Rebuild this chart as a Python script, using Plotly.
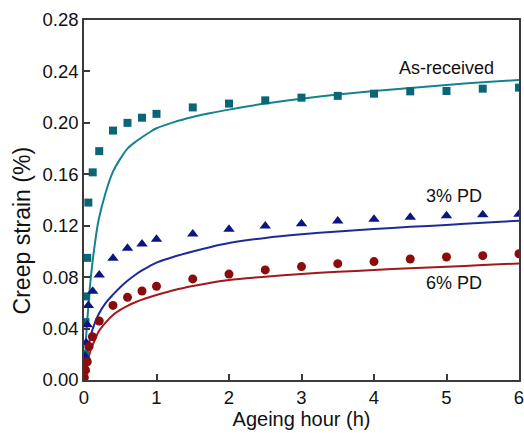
import plotly.graph_objects as go

# Measured data (ageing hour, creep strain %)
t_ar = [0.01, 0.02, 0.03, 0.045, 0.06, 0.12, 0.21, 0.4, 0.6, 0.8, 1.0, 1.5, 2.0, 2.5, 3.0, 3.5, 4.0, 4.5, 5.0, 5.5, 6.0]
y_ar = [0.02, 0.045, 0.065, 0.095, 0.138, 0.1615, 0.178, 0.194, 0.200, 0.204, 0.207, 0.212, 0.215, 0.2175, 0.2196, 0.221, 0.2227, 0.2245, 0.2248, 0.2266, 0.2274]

t_3 = [0.01, 0.02, 0.03, 0.045, 0.06, 0.12, 0.21, 0.4, 0.6, 0.8, 1.0, 1.5, 2.0, 2.5, 3.0, 3.5, 4.0, 4.5, 5.0, 5.5, 6.0]
y_3 = [0.008, 0.018, 0.029, 0.043, 0.058, 0.069, 0.0817, 0.0946, 0.1024, 0.1058, 0.1094, 0.1136, 0.1172, 0.1198, 0.1216, 0.1237, 0.125, 0.1265, 0.1278, 0.1286, 0.129]

t_6 = [0.005, 0.02, 0.045, 0.07, 0.115, 0.21, 0.4, 0.6, 0.8, 1.0, 1.5, 2.0, 2.5, 3.0, 3.5, 4.0, 4.5, 5.0, 5.5, 6.0]
y_6 = [0.002, 0.0078, 0.0142, 0.026, 0.0337, 0.0459, 0.058, 0.0643, 0.0692, 0.0729, 0.0786, 0.0824, 0.0856, 0.0882, 0.0905, 0.0921, 0.0941, 0.0957, 0.0967, 0.0982]

# Model curves
tf = [0.0, 0.005, 0.01, 0.02, 0.03, 0.05, 0.075, 0.1, 0.15, 0.2, 0.3, 0.4, 0.5, 0.6, 0.7, 0.8, 0.9, 1.0,
      1.25, 1.5, 1.75, 2.0, 2.5, 3.0, 3.5, 4.0, 4.5, 5.0, 5.5, 6.0]
yf_ar = [0.0, 0.007, 0.013, 0.024, 0.034, 0.050, 0.068, 0.083, 0.106, 0.124, 0.146, 0.162, 0.172, 0.180, 0.1848, 0.1888, 0.1925, 0.1958,
         0.2008, 0.2046, 0.2077, 0.2103, 0.2150, 0.2188, 0.2220, 0.2248, 0.2272, 0.2295, 0.2315, 0.2333]
yf_3 = [0.0, 0.0025, 0.005, 0.010, 0.0145, 0.022, 0.030, 0.036, 0.0445, 0.051, 0.060, 0.0664, 0.0722, 0.0772, 0.0815, 0.0852, 0.0884, 0.0913,
        0.0961, 0.1000, 0.1035, 0.1065, 0.1105, 0.1133, 0.1155, 0.1174, 0.1191, 0.1206, 0.1223, 0.1239]
yf_6 = [0.0, 0.0015, 0.003, 0.0065, 0.0095, 0.015, 0.020, 0.025, 0.031, 0.0375, 0.0448, 0.0506, 0.0545, 0.0576, 0.0603, 0.0625, 0.0644, 0.0661,
        0.0700, 0.0731, 0.0757, 0.0778, 0.0804, 0.0825, 0.0841, 0.0856, 0.0869, 0.0881, 0.0894, 0.0907]

x_ticks = [0, 1, 2, 3, 4, 5, 6]
y_ticks = [0.00, 0.04, 0.08, 0.12, 0.16, 0.20, 0.24, 0.28]

c_ar_pt, c_ar_ln = "#0a6577", "#13838f"
c_3_pt, c_3_ln = "#0c1580", "#1f2a99"
c_6_pt, c_6_ln = "#8a0c0c", "#a0191c"

fig = go.Figure()
for yy, cc in [(yf_ar, c_ar_ln), (yf_3, c_3_ln), (yf_6, c_6_ln)]:
    fig.add_trace(go.Scatter(x=tf, y=yy, mode="lines", line=dict(color=cc, width=2, shape="spline", smoothing=0.8)))
fig.add_trace(go.Scatter(x=t_ar, y=y_ar, mode="markers", marker=dict(symbol="square", size=8, color=c_ar_pt)))
fig.add_trace(go.Scatter(x=t_3, y=y_3, mode="markers", marker=dict(symbol="triangle-up", size=10, color=c_3_pt)))
fig.add_trace(go.Scatter(x=t_6, y=y_6, mode="markers", marker=dict(symbol="circle", size=9, color=c_6_pt)))

font_family = "Liberation Sans, Arial, sans-serif"
ann_font = dict(size=18, color="#111", family=font_family)
fig.add_annotation(x=5.0, y=0.2428, text="As-received", showarrow=False, font=ann_font)
fig.add_annotation(x=5.1, y=0.1435, text="3% PD", showarrow=False, font=ann_font)
fig.add_annotation(x=5.1, y=0.0755, text="6% PD", showarrow=False, font=ann_font)

# y-axis title (placed as a rotated annotation, like the original)
fig.add_annotation(xref="paper", yref="paper", x=-0.143, y=0.415, text="Creep strain (%)", textangle=-90,
                   showarrow=False, xanchor="center", yanchor="middle",
                   font=dict(size=23, color="#111", family=font_family))

axis_common = dict(showline=True, linecolor="#3a3a3a", linewidth=1.5, mirror=True, ticks="inside",
                   ticklen=6, tickcolor="#3a3a3a", tickwidth=1.5, showgrid=False, zeroline=False,
                   automargin=False, ticklabeloverflow="allow",
                   tickfont=dict(size=18.5, color="#111", family=font_family))
fig.update_xaxes(range=[0, 6], tickvals=x_ticks, ticktext=[str(v) for v in x_ticks],
                 title=dict(text="Ageing hour (h)", font=dict(size=20, color="#111", family=font_family), standoff=4),
                 **axis_common)
fig.update_yaxes(range=[0, 0.28], tickvals=y_ticks, ticktext=[f"{v:.2f}" for v in y_ticks],
                 **axis_common)
fig.update_layout(width=524, height=435, margin=dict(l=84, r=5, t=20, b=55),
                  paper_bgcolor="white", plot_bgcolor="white", showlegend=False)
fig.write_html("out.html")
